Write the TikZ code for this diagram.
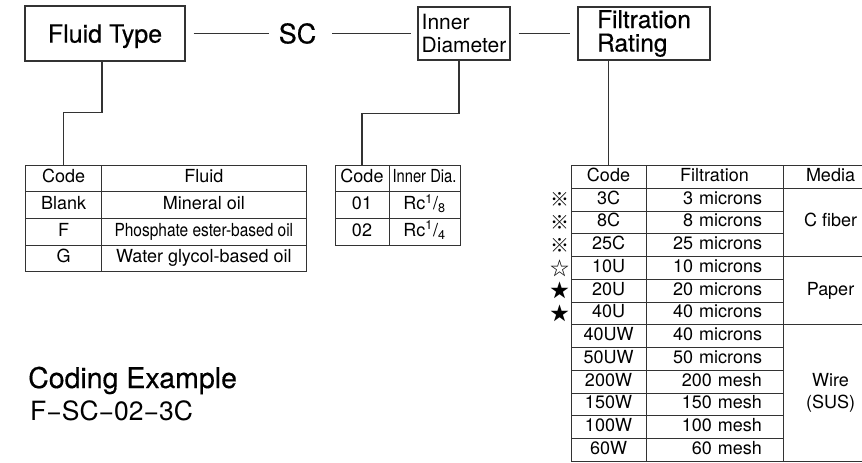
\documentclass[tikz,border=0pt]{standalone}
\usepackage{graphicx}
\usepackage{fontspec}
\setmainfont{TeX Gyre Heros}
\newfontfamily\headfont[FakeBold=0.4]{TeX Gyre Heros}
\newfontfamily\cjk{Noto Sans CJK JP}
\newcommand{\pxsize}[2]{\fontsize{#1}{#2}\selectfont}

\begin{document}
\begin{tikzpicture}[x=1pt, y=-1pt, font=\pxsize{18}{20}]
  \tikzstyle{blk}=[draw=black!80, line width=1.1pt, inner sep=0pt]
  \tikzstyle{cell}=[draw=black!80, line width=1pt, inner sep=0pt,
                    text height=13pt, text depth=4pt]
  \tikzstyle{wcell}=[draw=black!80, line width=1pt, inner sep=0pt, align=center]
  \tikzstyle{conn}=[draw=black!80, line width=1.1pt]

  \clip (0,0) rectangle (862,463);

  % --- code boxes ---
  \node[blk, minimum width=160pt, minimum height=55pt, text depth=0pt,
        font=\headfont\pxsize{25}{27}] (ftype) at (105,33.5) {Fluid Type};
  \node[inner sep=0pt, font=\headfont\pxsize{27}{27}] (sc) at (297.5,33.5) {SC};
  \node[blk, minimum width=92pt, minimum height=53pt, align=left,
        font=\pxsize{21}{22.5}] (idia) at (464,33.5) {Inner\\Diameter};
  \node[blk, minimum width=132pt, minimum height=53pt, align=left,
        font=\headfont\pxsize{24.5}{23.5}] (rating) at (644,33.5) {Filtration\\Rating};

  \draw[conn, shorten <=8pt, shorten >=10pt] (ftype) -- (sc);
  \draw[conn, shorten <=16pt, shorten >=6pt] (sc) -- (idia);
  \draw[conn, shorten <=8pt, shorten >=7pt] (idia) -- (rating);

  % --- fluid table ---
  \foreach \cd/\fl [count=\i from 0] in {Code/Fluid, Blank/Mineral oil,
      F/{\scalebox{0.86}[1]{Phosphate ester-based oil}}, G/Water glycol-based oil} {
    \node[cell, minimum width=76pt, minimum height=26.7pt] (fl\i)
      at (63.7,{165+26.7*(\i+0.5)}) {\cd};
    \node[cell, minimum width=204.3pt, minimum height=26.7pt] (fx\i)
      at (203.85,{165+26.7*(\i+0.5)}) {\fl};
  }

  % --- inner diameter table ---
  \foreach \cd/\dia [count=\i from 0] in {Code/{\scalebox{0.82}[1]{Inner Dia.}},
      01/{Rc\textsuperscript{1}/\textsubscript{8}},
      02/{Rc\textsuperscript{1}/\textsubscript{4}}} {
    \node[cell, minimum width=54pt, minimum height=26.7pt] (in\i)
      at (362,{165+26.7*(\i+0.5)}) {\cd};
    \node[cell, minimum width=71pt, minimum height=26.7pt] (ix\i)
      at (424.5,{165+26.7*(\i+0.5)}) {\dia};
  }

  % --- filtration table ---
  \node[cell, minimum width=75pt, minimum height=22.75pt] (fr0)
    at (608.5,{165.5+22.75*0.5}) {Code};
  \node[cell, minimum width=137pt, minimum height=22.75pt] (fy0)
    at (714.5,{165.5+22.75*0.5}) {Filtration};
  \foreach \cd/\fl [count=\i] in {3C/3 microns, 8C/8 microns, 25C/25 microns,
      10U/10 microns, 20U/20 microns, 40U/40 microns, 40UW/40 microns,
      50UW/50 microns, 200W/200 mesh, 150W/150 mesh, 100W/100 mesh, 60W/60 mesh} {
    \node[cell, minimum width=75pt, minimum height=22.75pt] (fr\i)
      at (608.5,{165.5+22.75*(\i+0.5)}) {\cd};
    \node[cell, text width=95pt, inner xsep=21pt, align=right,
          minimum height=22.75pt] (fy\i)
      at (714.5,{165.5+22.75*(\i+0.5)}) {\fl};
  }
  \foreach \mk [count=\i] in {※,※,※,☆,★,★}
    \node[font={\cjk\pxsize{19}{19}}] (mk\i) at (560,{165.5+22.75*(\i+0.5)}) {\mk};

  % media column, merged cells
  \node[cell, minimum width=95pt, minimum height=22.75pt] (media)
    at (830.5,{165.5+22.75*0.5}) {Media};
  \node[cell, minimum width=95pt, minimum height=68.25pt] (cfiber)
    at (830.5,{165.5+22.75*2.5}) {C fiber};
  \node[cell, minimum width=95pt, minimum height=68.25pt] (paper)
    at (830.5,{165.5+22.75*5.5}) {Paper};
  \node[wcell, minimum width=95pt, minimum height=136.5pt, font=\pxsize{18}{22}] (wire)
    at (830.5,{165.5+22.75*10}) {Wire\\(SUS)};

  % --- connectors to tables ---
  \draw[conn] ([xshift=-3pt]ftype.south) -- ++(0,50.5) -| (fl0.north);
  \draw[conn] ([xshift=-5pt]idia.south) -- ++(0,52.5) -| (in0.north);
  \draw[conn] (rating.south -| fr0.north) -- (fr0.north);

  % --- coding example ---
  \node[anchor=base west, inner sep=0pt, font=\headfont\pxsize{28.5}{30}] (coding)
    at (28,388) {Coding Example};
  \node[anchor=base west, inner sep=0pt, font=\pxsize{26.5}{28}] (example)
    at (30,420) {F−SC−02−3C};
\end{tikzpicture}
\end{document}
